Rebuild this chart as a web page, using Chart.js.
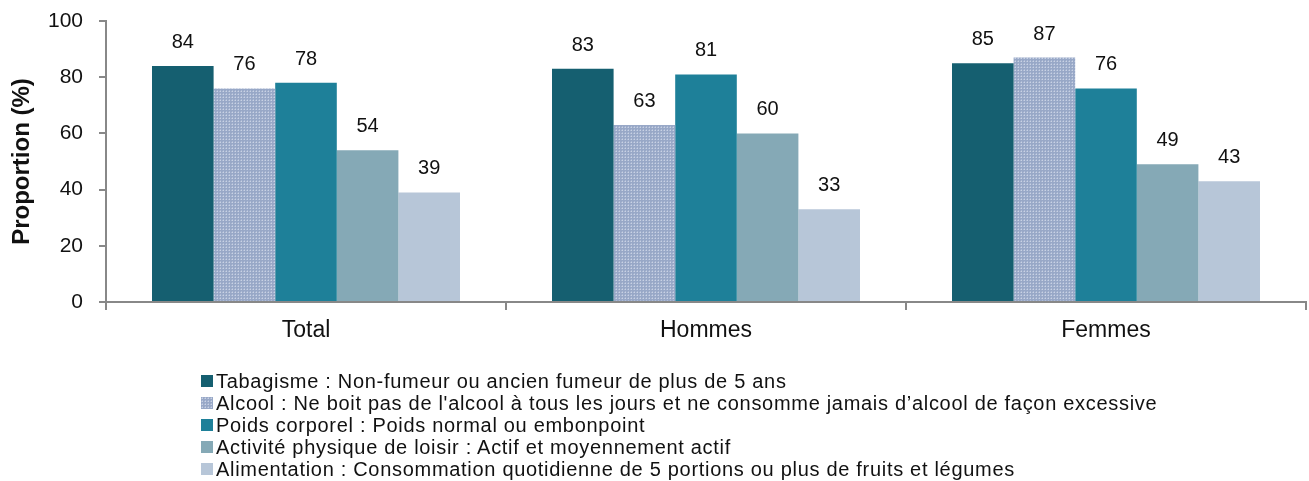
<!DOCTYPE html>
<html><head><meta charset="utf-8">
<script src="https://cdn.jsdelivr.net/npm/chart.js@4/dist/chart.umd.min.js"></script>
<style>
html,body{margin:0;padding:0;background:#fff;}
#wrap{position:relative;width:1309px;height:481px;}
#legend{position:absolute;left:201px;top:370px;font-family:"Liberation Sans",Arial,sans-serif;font-size:20px;letter-spacing:0.7px;color:#111;}
.li{height:22px;display:flex;align-items:center;white-space:nowrap;}
.sw{width:12px;height:12px;margin-right:3px;flex:none;}
</style></head>
<body><div id="wrap"><canvas id="c" width="1309" height="481"></canvas><div id="legend"></div></div>
<script>
const categories = ["Total", "Hommes", "Femmes"];
const seriesLabels = [
  "Tabagisme : Non-fumeur ou ancien fumeur de plus de 5 ans",
  "Alcool : Ne boit pas de l'alcool à tous les jours et ne consomme jamais d’alcool de façon excessive",
  "Poids corporel : Poids normal ou embonpoint",
  "Activité physique de loisir : Actif et moyennement actif",
  "Alimentation : Consommation quotidienne de 5 portions ou plus de fruits et légumes"
];
const tabagisme = [84, 83, 85];
const alcool = [76, 63, 87];
const poids = [78, 81, 76];
const activite = [54, 60, 49];
const alimentation = [39, 33, 43];
const yTicks = [0, 20, 40, 60, 80, 100];

const FONT = '"Liberation Sans", Arial, sans-serif';

// dotted pattern for Alcool
const pc = document.createElement('canvas'); pc.width = 3; pc.height = 3;
const px = pc.getContext('2d');
px.fillStyle = '#98a8c7'; px.fillRect(0,0,3,3);
px.fillStyle = '#c9d2e4'; px.fillRect(1,1,1,1);
px.fillStyle = '#aebbd5'; px.fillRect(0,1,1,1); px.fillRect(1,0,1,1);
const ctx0 = document.getElementById('c').getContext('2d');
const pattern = ctx0.createPattern(pc, 'repeat');

const colors = ['#155f70', pattern, '#1e8099', '#85a9b6', '#b7c6d8'];
const seriesData = [tabagisme, alcool, poids, activite, alimentation];

const valueLabels = {
  id: 'valueLabels',
  afterDatasetsDraw(chart) {
    const ctx = chart.ctx;
    ctx.save();
    ctx.font = '20px ' + FONT;
    ctx.fillStyle = '#111';
    ctx.textAlign = 'center';
    ctx.textBaseline = 'alphabetic';
    chart.data.datasets.forEach((ds, i) => {
      chart.getDatasetMeta(i).data.forEach((bar, j) => {
        ctx.fillText(String(ds.data[j]), bar.x, bar.y - 18);
      });
    });
    ctx.restore();
  }
};

const chart = new Chart(ctx0, {
  type: 'bar',
  data: {
    labels: categories,
    datasets: seriesData.map((d, i) => ({
      label: seriesLabels[i], data: d, backgroundColor: colors[i], borderWidth: 0,
      categoryPercentage: 0.77, barPercentage: 1.0
    }))
  },
  options: {
    responsive: false, animation: false,
    layout: { padding: { top: 21, right: 3, left: 0, bottom: 131 } },
    plugins: { legend: { display: false }, tooltip: { enabled: false } },
    scales: {
      x: {
        grid: { offset: true, drawOnChartArea: false, drawTicks: true, tickLength: 8, color: '#888', lineWidth: 2 },
        border: { display: true, color: '#888', width: 2 },
        ticks: { font: { family: FONT, size: 23 }, color: '#111', padding: 7 },
        afterFit(s) { s.height = 48; s.paddingLeft = 0; s.paddingRight = 0; }
      },
      y: {
        min: 0, max: 100,
        afterBuildTicks(s) { s.ticks = yTicks.map(v => ({ value: v })); },
        grid: { drawOnChartArea: false, drawTicks: true, tickLength: 7, color: '#888', lineWidth: 2 },
        border: { display: true, color: '#888', width: 2 },
        ticks: { font: { family: FONT, size: 21 }, color: '#111', padding: 16 },
        title: { display: true, text: 'Proportion (%)', font: { family: FONT, size: 24, weight: 'bold' }, color: '#111', padding: { top: 8, bottom: 0 } },
        afterFit(s) { s.width = 106; s.paddingTop = 0; s.paddingBottom = 0; }
      }
    }
  },
  plugins: [valueLabels]
});

// HTML legend, one item per line
const leg = document.getElementById('legend');
const patURL = pc.toDataURL();
seriesLabels.forEach((lab, i) => {
  const row = document.createElement('div'); row.className = 'li';
  const sw = document.createElement('span'); sw.className = 'sw';
  if (i === 1) { sw.style.backgroundImage = 'url(' + patURL + ')'; }
  else sw.style.background = colors[i];
  const t = document.createElement('span'); t.textContent = lab;
  row.appendChild(sw); row.appendChild(t); leg.appendChild(row);
});
</script></body></html>
